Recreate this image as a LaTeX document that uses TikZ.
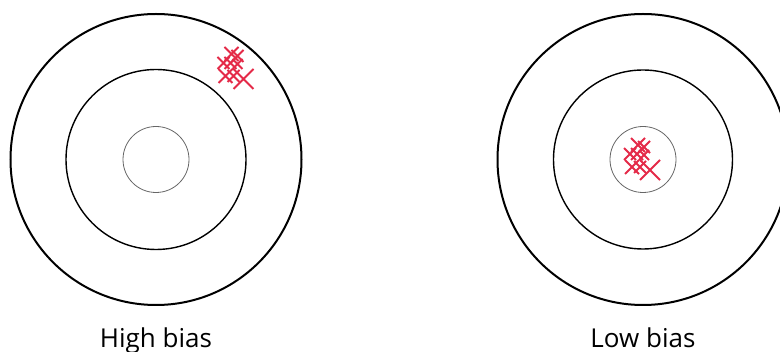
\documentclass[tikz,border=0pt]{standalone}
\usepackage{fontspec}
\setmainfont{Open Sans}
\definecolor{hitred}{RGB}{228,42,72}
\tikzset{
  ring1/.style={draw=black, line width=2pt},
  ring2/.style={draw=black, line width=1.4pt},
  ring3/.style={draw=black!60, line width=0.8pt},
  lbl/.style={font=\fontsize{26}{30}\selectfont, anchor=base, inner sep=0pt},
  hit/.style={draw=hitred, line width=1.9pt},
}
\newcommand{\xmark}[3]{\draw[hit] ({#1-#3},{#2-#3}) -- ({#1+#3},{#2+#3}) ({#1-#3},{#2+#3}) -- ({#1+#3},{#2-#3});}
\newcommand{\cluster}[2]{%
  \xmark{#1}{#2}{7}
  \xmark{#1+6}{#2+2}{6}
  \xmark{#1-8}{#2+9}{6}
  \xmark{#1-1}{#2+9}{6}
  \xmark{#1+6}{#2+10}{5}
  \xmark{#1-6}{#2+22}{7}
  \xmark{#1+2}{#2+22}{6}
  \xmark{#1+12}{#2+25}{10}
}
\begin{document}
\begin{tikzpicture}[x=1pt,y=-1pt]
\useasboundingbox (0,0) rectangle (780,352);
\begin{scope}
\clip (0,0) rectangle (780,352);
% left target
\node[circle, ring1, minimum size=291pt, inner sep=0pt] (lo) at (156,159.5) {};
\node[circle, ring2, minimum size=180pt, inner sep=0pt] (lm) at (156,159.5) {};
\node[circle, ring3, minimum size=66pt, inner sep=0pt] (li) at (156,159.5) {};
% right target
\node[circle, ring1, minimum size=291pt, inner sep=0pt] (ro) at (643,159.5) {};
\node[circle, ring2, minimum size=179pt, inner sep=0pt] (rm) at (643,159.5) {};
\node[circle, ring3, minimum size=66pt, inner sep=0pt] (ri) at (643,159.5) {};
\cluster{231.5}{54}
\cluster{638}{145}
\end{scope}
\node[lbl] (lt) at (156,348) {High bias};
\node[lbl] (rt) at (643,348) {Low bias};
\end{tikzpicture}
\end{document}
